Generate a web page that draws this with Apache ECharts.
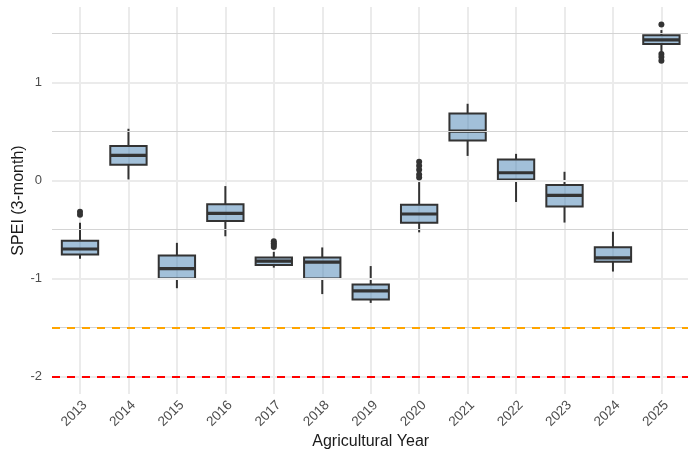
<!DOCTYPE html>
<html>
<head>
<meta charset="utf-8">
<script src="https://cdn.jsdelivr.net/npm/echarts@6/dist/echarts.min.js"></script>
<style>
  html, body { margin: 0; padding: 0; background: #fff; }
  #chart { width: 688px; height: 457px; }
</style>
</head>
<body>
<div id="chart"></div>
<script>
// categories
var years = ['2013','2014','2015','2016','2017','2018','2019','2020','2021','2022','2023','2024','2025'];

// box stats (whisker low, Q1, median, Q3, whisker high)
var whiskerLow  = [-0.80, 0.01, -1.10, -0.57, -0.89, -1.16, -1.25, -0.53, 0.25, -0.22, -0.43, -0.93, 1.31];
var q1          = [-0.755, 0.16, -1.00, -0.415, -0.864, -1.00, -1.214, -0.432, 0.408, 0.01, -0.265, -0.83, 1.391];
var median      = [-0.70, 0.255, -0.90, -0.337, -0.823, -0.833, -1.127, -0.343, 0.503, 0.078, -0.153, -0.79, 1.435];
var q3          = [-0.616, 0.35, -0.765, -0.242, -0.786, -0.786, -1.061, -0.249, 0.684, 0.214, -0.048, -0.681, 1.48];
var whiskerHigh = [-0.433, 0.527, -0.637, -0.058, -0.729, -0.684, -0.874, -0.017, 0.782, 0.271, 0.088, -0.524, 1.534];

// outliers
var outlierYears  = ['2013','2013','2017','2017','2017','2017','2020','2020','2020','2020','2020','2025','2025','2025','2025'];
var outlierValues = [-0.32, -0.35, -0.62, -0.64, -0.66, -0.68, 0.19, 0.15, 0.11, 0.06, 0.03, 1.59, 1.29, 1.26, 1.22];

// gridlines / reference lines
var majorTicks = [-2, -1, 0, 1];
var minorTicks = [-1.5, -0.5, 0.5, 1.5];
var moderateDrought = -1.5;
var severeDrought = -2;

var yMin = -2.1795, yMax = 1.7695;

var boxData = [];
for (var i = 0; i < years.length; i++) {
    boxData.push([i, whiskerLow[i], q1[i], median[i], q3[i], whiskerHigh[i]]);
}
var outlierData = [];
for (var j = 0; j < outlierYears.length; j++) {
    outlierData.push([outlierYears[j], outlierValues[j]]);
}

function hLines(vals) {
    return vals.map(function (v) { return { yAxis: v }; });
}

// ggplot-ish box: no whisker caps, thick median
function renderBox(params, api) {
    var x = api.value(0);
    var pLow = api.coord([x, api.value(1)]);
    var pQ1 = api.coord([x, api.value(2)]);
    var pMed = api.coord([x, api.value(3)]);
    var pQ3 = api.coord([x, api.value(4)]);
    var pHigh = api.coord([x, api.value(5)]);
    var w = api.size([1, 0])[0] * 0.75;
    var cx = pMed[0];
    var dark = '#333333';
    return {
        type: 'group',
        children: [
            { type: 'line', shape: { x1: cx, y1: pHigh[1], x2: cx, y2: pQ3[1] }, style: { stroke: dark, lineWidth: 2 } },
            { type: 'line', shape: { x1: cx, y1: pQ1[1], x2: cx, y2: pLow[1] }, style: { stroke: dark, lineWidth: 2 } },
            { type: 'rect', shape: { x: cx - w / 2, y: pQ3[1], width: w, height: pQ1[1] - pQ3[1] },
              style: { fill: 'rgba(70,130,180,0.5)', stroke: dark, lineWidth: 2 } },
            { type: 'line', shape: { x1: cx - w / 2, y1: pMed[1], x2: cx + w / 2, y2: pMed[1] }, style: { stroke: dark, lineWidth: 3.2 } }
        ]
    };
}

function threshold(v, color) {
    return {
        type: 'line', xAxisIndex: 0, yAxisIndex: 0, data: [], silent: true, z: 3,
        markLine: { silent: true, symbol: 'none', label: { show: false },
            lineStyle: { color: color, width: 2, type: [8, 7] },
            data: [{ yAxis: v }] }
    };
}

var chart = echarts.init(document.getElementById('chart'));
var band = 48.45;
var option = {
    animation: false,
    grid: [
        { left: 52, right: 0, top: 7, height: 387, outerBoundsMode: 'none' },
        { left: 80 - band / 2, width: band * years.length, top: 7, height: 387, outerBoundsMode: 'none' }
    ],
    xAxis: [
        { gridIndex: 0, type: 'value', min: 0, max: 1, show: false },
        {
            gridIndex: 1, type: 'category', data: years,
            axisLine: { show: false }, axisTick: { show: false, alignWithLabel: true },
            splitLine: { show: true, alignWithLabel: true, lineStyle: { color: '#ebebeb', width: 2 } },
            axisLabel: { rotate: 45, margin: 4, align: 'right', verticalAlign: 'top', color: '#4d4d4d', fontSize: 13.5, fontFamily: 'Liberation Sans' },
            name: 'Agricultural Year', nameLocation: 'middle', nameGap: 40, nameMoveOverlap: false,
            nameTextStyle: { color: '#1a1a1a', fontSize: 16, fontFamily: 'Liberation Sans' }
        }
    ],
    yAxis: [
        {
            gridIndex: 0, type: 'value', min: yMin, max: yMax,
            axisLine: { show: false }, axisTick: { show: false }, splitLine: { show: false },
            axisLabel: { customValues: majorTicks, margin: 10, color: '#4d4d4d', fontSize: 13, fontFamily: 'Liberation Sans' },
            name: 'SPEI (3-month)', nameLocation: 'middle', nameGap: 25, nameMoveOverlap: false,
            nameTextStyle: { color: '#1a1a1a', fontSize: 16, fontFamily: 'Liberation Sans' }
        },
        { gridIndex: 1, type: 'value', min: yMin, max: yMax, show: false }
    ],
    series: [
        {
            type: 'line', xAxisIndex: 0, yAxisIndex: 0, data: [], silent: true, z: 1,
            markLine: { silent: true, symbol: 'none', label: { show: false },
                lineStyle: { color: '#ebebeb', width: 2, type: 'solid' }, data: hLines(majorTicks) }
        },
        {
            type: 'line', xAxisIndex: 0, yAxisIndex: 0, data: [], silent: true, z: 1,
            markLine: { silent: true, symbol: 'none', label: { show: false },
                lineStyle: { color: '#d4d4d4', width: 1, type: 'solid' }, data: hLines(minorTicks) }
        },
        threshold(moderateDrought, '#ffa500'),
        threshold(severeDrought, '#ff0000'),
        {
            type: 'custom', xAxisIndex: 1, yAxisIndex: 1, z: 4,
            renderItem: renderBox, encode: { x: 0, y: [1, 2, 3, 4, 5] }, data: boxData
        },
        {
            type: 'scatter', xAxisIndex: 1, yAxisIndex: 1, z: 5,
            symbolSize: 6, itemStyle: { color: '#333333', opacity: 1 }, data: outlierData
        }
    ]
};
chart.setOption(option);
</script>
</body>
</html>
